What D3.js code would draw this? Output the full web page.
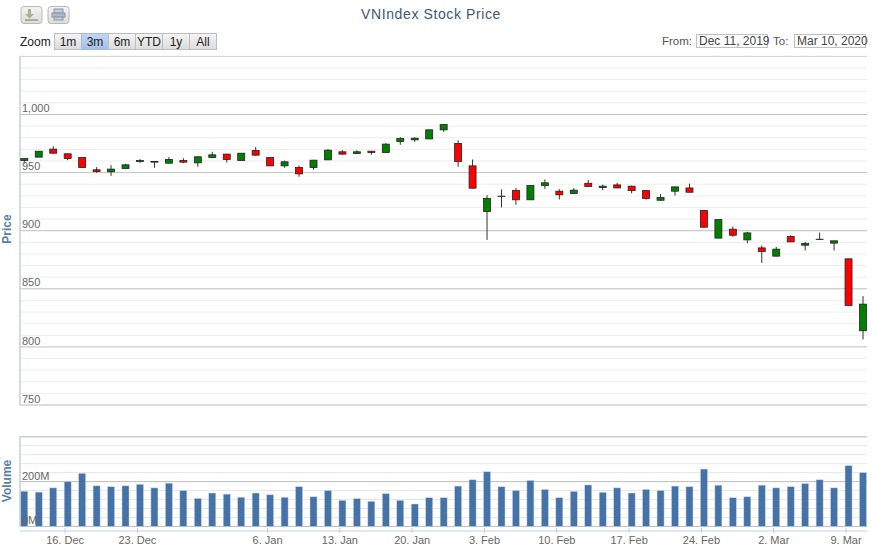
<!DOCTYPE html>
<html>
<head>
<meta charset="utf-8">
<title>VNIndex Stock Price</title>
<script src="https://cdn.jsdelivr.net/npm/d3@7"></script>
<style>
  html, body { margin: 0; padding: 0; background: #fff; }
  svg { display: block; font-family: "Liberation Sans", Arial, sans-serif; }
  .domain { display: none; }
</style>
</head>
<body>
<svg id="chart"></svg>
<script>
// Candles, one entry per trading day, Dec 11 2019 to Mar 10 2020.
const opens = [960.4,963.3,970.2,966.2,963,952.4,950.7,953.5,959.6,959,958.1,960.4,958.4,963,965.9,960.4,969,963,955.8,954.4,
  954.4,961,967.9,966.4,968.4,967.3,976.8,978.2,979,986.8,975,955.8,916.5,929.4,934.6,926.6,938.9,934,932,940.8,
  937.1,939.4,938.3,934.5,926.2,934,936.8,917.3,893.6,901.3,892.1,885.2,878.1,895,887.5,892.4,889.3,875.8,813.9];
const highs = [962.1,968.4,972.7,966.4,963,954.7,956.4,957.5,961.6,959.6,963.3,962.4,964.1,967.9,966.2,966.7,971.9,963.6,960.4,956.1,
  961,970.2,969.3,969.3,968.7,975.3,980.5,980.5,987.1,991.7,977.9,961.3,930.6,935.5,936.9,938.9,944.1,935.7,936.6,943.7,
  939.7,941.1,938.8,935.1,931.7,938,940.5,917.9,909.6,903.6,899,887.2,886.1,896.1,890.4,898.4,891.5,875.8,843.7];
const lows = [957.8,963.3,966.4,960.7,954.4,949.8,947.2,953.2,958.4,954.1,957.8,958.1,955,962.4,958.7,960.4,964.7,955.8,954.1,946.4,
  952.4,960.7,965.3,965.9,965.3,967,973.9,976.5,978.8,985.1,955,936.3,892.1,920,922.3,926.6,936,926.9,931.7,937.7,
  934.8,936.5,932.2,926.8,925.9,930.2,932.8,902.7,893.6,894.7,889.3,872.3,877.8,890.1,883,892.1,883,835.7,806.4];
const closes = [962.1,968.4,966.7,962.1,954.4,950.9,953,956.7,960.4,959.6,961.3,959,963.6,965.3,961.3,966.7,965,955.8,959.3,948.9,
  960.7,969.3,965.9,967.9,967.3,974.5,979.3,979.6,986.8,991.4,959.6,936.6,927.7,929.7,926.6,938.9,941.2,930.9,934.9,938,
  938.3,936.8,934.5,927.7,928.5,937.7,933.1,903,909.6,896.1,898.1,882.1,884.1,890.4,889,892.7,891.3,835.7,836.8];
const volumes = [157,153,172,200,237,181,177,181,188,172,193,160,125,149,144,130,149,141,130,177,
  132,160,116,124,112,146,116,100,128,128,180,208,244,177,160,205,165,128,156,185,
  152,172,149,165,160,180,177,256,184,128,132,184,172,177,191,208,172,271,240];

// Axis ticks
const priceTicks = [750, 800, 850, 900, 950, 1000];
const priceMinor = d3.range(750, 1051, 10);
const volumeTicks = [0, 200];
const volumeMinor = d3.range(0, 401, 40);
const dateTickIdx = [3, 8, 17, 22, 27, 32, 37, 42, 47, 52, 57];
const dateTickLabels = ["16. Dec", "23. Dec", "6. Jan", "13. Jan", "20. Jan", "3. Feb", "10. Feb", "17. Feb", "24. Feb", "2. Mar", "9. Mar"];

const rangeButtons = ["1m", "3m", "6m", "YTD", "1y", "All"];

// Layout
const width = 872, height = 547;
const plotLeft = 19.5, plotRight = 867;
const barWidth = 7;

const svg = d3.select("#chart").attr("width", width).attr("height", height);

const defs = svg.append("defs");
const btnGrad = defs.append("linearGradient").attr("id", "btnGrad").attr("x1", 0).attr("x2", 0).attr("y1", 0).attr("y2", 1);
btnGrad.append("stop").attr("offset", 0).attr("stop-color", "#f4f4f4");
btnGrad.append("stop").attr("offset", 1).attr("stop-color", "#dcdcdc");
const selGrad = defs.append("linearGradient").attr("id", "selGrad").attr("x1", 0).attr("x2", 0).attr("y1", 0).attr("y2", 1);
selGrad.append("stop").attr("offset", 0).attr("stop-color", "#c3d6f2");
selGrad.append("stop").attr("offset", 1).attr("stop-color", "#a3c0ea");

// Scales
const x = d3.scaleLinear().domain([0, opens.length - 1]).range([24.3, 863]);
const xTick = d3.scaleLinear().domain([0, opens.length - 1]).range([21.2, 860]); // ticks sit a bit left of the candles
const yPrice = d3.scaleLinear().domain([750, 1050]).range([405, 56.4]);
const yVolume = d3.scaleLinear().domain([0, 400]).range([526.4, 436.8]);

// Grid lines
function grid(values, scale, color) {
  svg.append("g").selectAll("line").data(values).join("line")
    .attr("x1", plotLeft).attr("x2", plotRight)
    .attr("y1", d => scale(d)).attr("y2", d => scale(d))
    .attr("stroke", color).attr("stroke-width", 1);
}
grid(priceMinor, yPrice, "#ededed");
grid(priceTicks, yPrice, "#c4c4c4");
grid(volumeMinor, yVolume, "#e6e6e6");
grid(volumeTicks, yVolume, "#c0c0c0");
grid([1050], yPrice, "#d4d4d4");
grid([400], yVolume, "#c0c0c0");

// Left edge of each pane
[[56, 405], [437, 526]].forEach(([a, b]) => {
  svg.append("line").attr("x1", 20).attr("x2", 20).attr("y1", a).attr("y2", b)
    .attr("stroke", "#c0d0e0").attr("stroke-width", 1.5);
});

// Volume bars
svg.append("g").selectAll("rect").data(volumes).join("rect")
  .attr("x", (d, i) => x(i) - barWidth / 2)
  .attr("width", barWidth)
  .attr("y", d => yVolume(d))
  .attr("height", d => yVolume(0) - yVolume(d))
  .attr("fill", "#4572a7")
  .attr("stroke", "#c5d3e6")
  .attr("stroke-width", 0.5);

// Candles: wick, then body on top
const candles = svg.append("g").selectAll("g").data(opens).join("g");
candles.append("line")
  .attr("x1", (d, i) => x(i)).attr("x2", (d, i) => x(i))
  .attr("y1", (d, i) => yPrice(highs[i]))
  .attr("y2", (d, i) => yPrice(lows[i]))
  .attr("stroke", "#333").attr("stroke-width", 1);
candles.append("rect")
  .attr("x", (d, i) => x(i) - barWidth / 2)
  .attr("width", barWidth)
  .attr("y", (d, i) => yPrice(Math.max(opens[i], closes[i])))
  .attr("height", (d, i) => Math.abs(yPrice(opens[i]) - yPrice(closes[i])))
  .attr("fill", (d, i) => closes[i] >= opens[i] ? "#008000" : "#ff0000")
  .attr("stroke", "#222").attr("stroke-width", 0.8);

// Y labels sit inside the plot, above their grid line
const priceAxis = d3.axisRight(yPrice).tickValues(priceTicks).tickSize(0).tickPadding(0).tickFormat(d3.format(","));
svg.append("g").attr("transform", "translate(22,-6.4)").call(priceAxis)
  .call(g => g.selectAll("text").attr("fill", "#666").attr("font-size", 11).attr("font-family", "Liberation Sans"));

const volumeAxis = d3.axisRight(yVolume).tickValues(volumeTicks).tickSize(0).tickPadding(0).tickFormat(d => d + "M");
svg.append("g").attr("transform", "translate(22,-6)").call(volumeAxis)
  .call(g => g.selectAll("text").attr("fill", "#666").attr("font-size", 11).attr("font-family", "Liberation Sans"));

// Date axis
svg.append("line").attr("x1", plotLeft).attr("x2", plotRight).attr("y1", 531).attr("y2", 531)
  .attr("stroke", "#c0d0e0").attr("stroke-width", 1);
const dateAxis = d3.axisBottom(xTick).tickValues(dateTickIdx).tickSize(5).tickPadding(3)
  .tickFormat((d, i) => dateTickLabels[i]);
svg.append("g").attr("transform", "translate(0,528)").call(dateAxis)
  .call(g => g.selectAll("line").attr("stroke", "#c0d0e0"))
  .call(g => g.selectAll("text").attr("fill", "#666").attr("font-size", 11).attr("font-family", "Liberation Sans"));

// Axis titles
svg.append("text").attr("transform", "translate(11,229) rotate(-90)")
  .attr("text-anchor", "middle").attr("fill", "#5a7fa5").attr("font-size", 12).attr("font-weight", "bold").text("Price");
svg.append("text").attr("transform", "translate(11,481) rotate(-90)")
  .attr("text-anchor", "middle").attr("fill", "#5a7fa5").attr("font-size", 12).attr("font-weight", "bold").text("Volume");

// Title
svg.append("text").attr("x", 431).attr("y", 19).attr("text-anchor", "middle")
  .attr("fill", "#3e576f").attr("font-size", 14).attr("letter-spacing", 0.6).text("VNIndex Stock Price");

// Export and print buttons
[21, 48].forEach(bx => {
  svg.append("rect").attr("x", bx).attr("y", 6.5).attr("width", 21).attr("height", 17).attr("rx", 3)
    .attr("fill", "url(#btnGrad)").attr("stroke", "#b8b8b8");
});
svg.append("path").attr("d", "M28 9h3v5h3l-4.5 4.5L25 14h3z").attr("fill", "#a9b391");
svg.append("rect").attr("x", 25).attr("y", 19).attr("width", 13).attr("height", 2).attr("fill", "#a9b391");
svg.append("rect").attr("x", 54).attr("y", 9).attr("width", 9).attr("height", 4).attr("fill", "#c3cdd6").attr("stroke", "#8a97a3");
svg.append("rect").attr("x", 52).attr("y", 13).attr("width", 13).attr("height", 4).attr("fill", "#a9bccd").attr("stroke", "#8a97a3");
svg.append("rect").attr("x", 54).attr("y", 17).attr("width", 9).attr("height", 3).attr("fill", "#c3cdd6").attr("stroke", "#8a97a3");

// Range selector
svg.append("text").attr("x", 20).attr("y", 46).attr("fill", "#222").attr("font-size", 12).text("Zoom");
const buttons = svg.append("g").selectAll("g").data(rangeButtons).join("g")
  .attr("transform", (d, i) => `translate(${54.5 + i * 27},33.5)`);
buttons.append("rect").attr("width", 27).attr("height", 16)
  .attr("fill", d => d === "3m" ? "url(#selGrad)" : "url(#btnGrad)")
  .attr("stroke", d => d === "3m" ? "#a5bcd8" : "#bdbdbd");
buttons.append("text").attr("x", 13.5).attr("y", 12.5).attr("text-anchor", "middle")
  .attr("fill", "#222").attr("font-size", 12).text(d => d);

// Date range inputs
svg.append("text").attr("x", 662).attr("y", 45).attr("fill", "#555").attr("font-size", 11.5).text("From:");
svg.append("rect").attr("x", 696.5).attr("y", 34.5).attr("width", 71).attr("height", 13).attr("fill", "#fff").attr("stroke", "#c0c0c0");
svg.append("text").attr("x", 699).attr("y", 45).attr("fill", "#444").attr("font-size", 12).text("Dec 11, 2019");
svg.append("text").attr("x", 773).attr("y", 45).attr("fill", "#555").attr("font-size", 11.5).text("To:");
svg.append("rect").attr("x", 794.5).attr("y", 34.5).attr("width", 71).attr("height", 13).attr("fill", "#fff").attr("stroke", "#c0c0c0");
svg.append("text").attr("x", 797).attr("y", 45).attr("fill", "#444").attr("font-size", 12).text("Mar 10, 2020");
</script>
</body>
</html>
